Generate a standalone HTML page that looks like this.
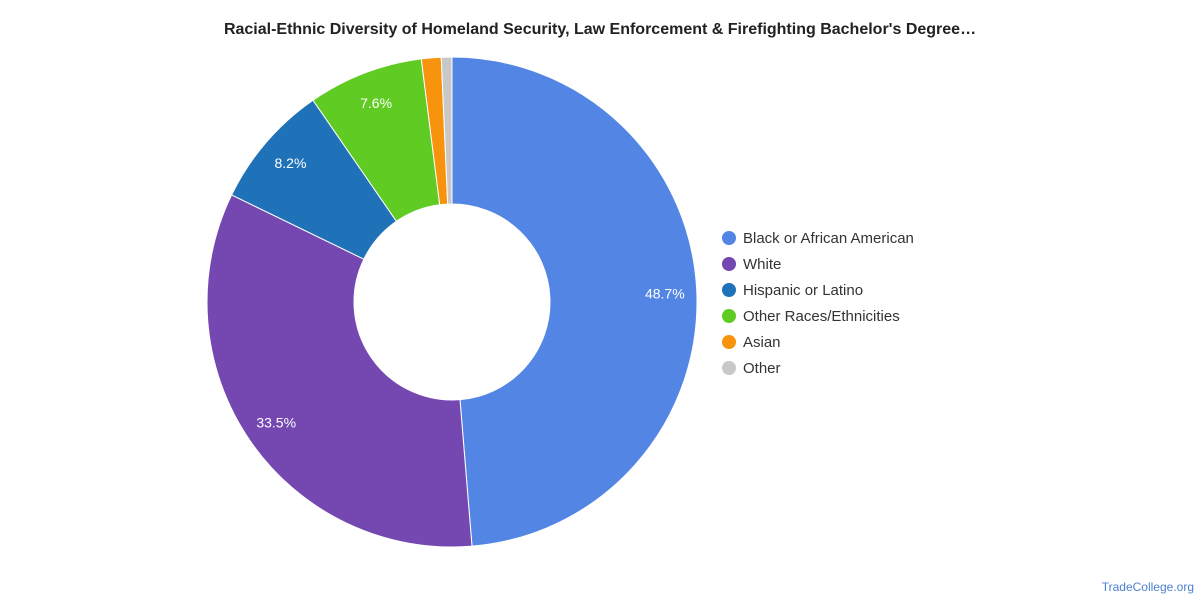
<!DOCTYPE html>
<html><head><meta charset="utf-8"><style>
body{margin:0;background:#fff;font-family:"Liberation Sans",Arial,sans-serif;}
svg{display:block}
</style></head><body>
<svg id="chart" width="1200" height="600" xmlns="http://www.w3.org/2000/svg">
<text x="600" y="34" text-anchor="middle" font-size="16" font-weight="bold" fill="#222">Racial-Ethnic Diversity of Homeland Security, Law Enforcement &amp; Firefighting Bachelor's Degree…</text>
<g id="slices"></g>
<g id="labels"></g>
<g id="legend"></g>
<text x="1194" y="591" text-anchor="end" font-size="12" fill="#4a80d0">TradeCollege.org</text>
</svg>
<script>
const categories=["Black or African American","White","Hispanic or Latino","Other Races/Ethnicities","Asian","Other"];
const values=[48.7,33.5,8.2,7.6,1.3,0.7];
const valueLabels=["48.7%","33.5%","8.2%","7.6%","",""];
const colors=["#5386e4","#7447b1","#1f71b8","#5fcb23","#f8930d","#c8c8c8"];
const NS="http://www.w3.org/2000/svg";
const cx=452,cy=302,R=245,r=98,LR=213;
const total=values.reduce((a,b)=>a+b,0);
const gS=document.getElementById('slices'),gL=document.getElementById('labels'),gG=document.getElementById('legend');
function pt(rad,a){return [cx+rad*Math.sin(a),cy-rad*Math.cos(a)];}
let a0=0;
values.forEach((v,i)=>{
  const a1=a0+v/total*2*Math.PI;
  const large=(a1-a0)>Math.PI?1:0;
  const [x0,y0]=pt(R,a0),[x1,y1]=pt(R,a1),[x2,y2]=pt(r,a1),[x3,y3]=pt(r,a0);
  const p=document.createElementNS(NS,'path');
  p.setAttribute('d',`M${x0},${y0}A${R},${R} 0 ${large} 1 ${x1},${y1}L${x2},${y2}A${r},${r} 0 ${large} 0 ${x3},${y3}Z`);
  p.setAttribute('fill',colors[i]);p.setAttribute('stroke','#fff');p.setAttribute('stroke-width','1');
  
  
  gS.appendChild(p);
  if(valueLabels[i]){
    const [lx,ly]=pt(LR,(a0+a1)/2);
    const t=document.createElementNS(NS,'text');
    t.setAttribute('x',lx);t.setAttribute('y',ly+5);t.setAttribute('text-anchor','middle');
    t.setAttribute('font-size','14');t.setAttribute('fill','#fff');
    t.textContent=valueLabels[i];
    
    
    gL.appendChild(t);
  }
  a0=a1;
});
categories.forEach((c,i)=>{
  const y=238+i*26;
  const g=document.createElementNS(NS,'g');
  
  
  const ci=document.createElementNS(NS,'circle');
  ci.setAttribute('cx',729);ci.setAttribute('cy',y);ci.setAttribute('r',7);ci.setAttribute('fill',colors[i]);
  const t=document.createElementNS(NS,'text');
  t.setAttribute('x',743);t.setAttribute('y',y+5);t.setAttribute('font-size','15');t.setAttribute('fill','#333');
  t.textContent=c;
  g.appendChild(ci);g.appendChild(t);gG.appendChild(g);
});
</script>
</body></html>
